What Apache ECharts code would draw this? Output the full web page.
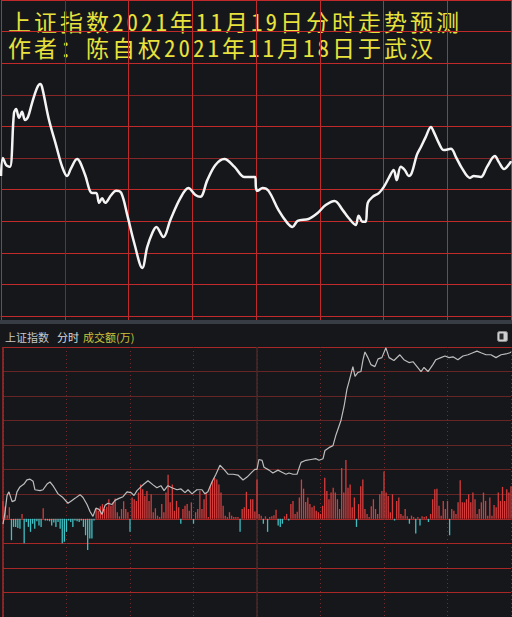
<!DOCTYPE html>
<html>
<head>
<meta charset="utf-8">
<script src="https://cdn.jsdelivr.net/npm/echarts@6/dist/echarts.min.js"></script>
<style>
html,body{margin:0;padding:0;background:#16171b;}
#chart{width:512px;height:617px;}
#chart text[style*="23px"]{letter-spacing:3px;}
</style>
</head>
<body>
<div id="chart"></div>
<script>
// ---- titles ----
const titleLine1 = '上证指数2021年11月19日分时走势预测';
const titleLine2 = '作者：陈自权2021年11月18日于武汉';
const headerName = '上证指数';
const headerMode = '分时';
const headerVol = '成交额(万)';

// ---- top panel: predicted intraday line (minute from 9:30, index value) ----
const predMinute = [0,0.9,2.4,4.2,6.1,7.1,8.5,9.9,11.3,12.7,14.6,17.0,18.4,19.3,22.6,25.9,28.8,31.1,33.0,35.8,37.2,39.6,42.9,44.8,46.2,47.6,49.0,51.9,54.2,56.6,59.4,62.7,66.5,68.8,71.2,73.1,76.4,79.7,84.4,88.2,91.5,93.8,97.1,100.9,105.1,109.9,114.6,119.6,120,120.7,123.1,125.9,130.6,134.8,137.2,139.6,144.7,149.0,152.8,157.0,160.8,163.6,166.9,168.3,170.2,171.6,172.6,174.9,177.8,180.1,182.5,184.8,186.2,188.1,190.0,191.9,193.3,195.7,197.6,199.9,202.3,203.7,206.0,208.4,211.7,214.1,216.9,220.7,222.5,225.8,228.7,232.4,234.3,236.7,239.5,240];
const predValue = [3514.3,3520.0,3517.8,3517.2,3534.2,3535.5,3532.7,3534.6,3532.0,3533.0,3537.4,3542.2,3543.4,3542.5,3532.0,3524.1,3517.2,3514.3,3516.8,3519.7,3518.7,3514.6,3508.9,3508.9,3505.8,3507.3,3505.8,3508.3,3509.6,3508.9,3502.0,3493.1,3485.2,3491.8,3496.3,3498.2,3495.0,3500.4,3507.3,3510.5,3508.3,3507.7,3513.0,3517.8,3519.7,3517.2,3514.0,3514.0,3510.5,3509.6,3510.5,3509.6,3503.5,3499.4,3498.2,3500.1,3500.7,3502.6,3505.1,3506.4,3503.5,3501.0,3498.8,3501.7,3499.8,3499.8,3505.8,3507.7,3508.9,3510.8,3513.7,3516.2,3513.0,3517.2,3516.2,3514.3,3515.3,3521.0,3523.5,3526.7,3529.8,3528.2,3524.8,3522.5,3522.9,3520.3,3516.8,3513.7,3514.3,3514.0,3517.2,3520.6,3518.7,3516.5,3518.4,3519.0];

// ---- bottom panel: actual price line ----
const priceMinute = [0,0.9,1.9,2.8,4.3,5.7,6.6,8.0,9.9,11.3,12.8,14.2,15.1,17.5,18.9,20.8,22.2,23.6,24.6,26.0,28.3,30.7,32.6,34.0,36.4,37.8,39.7,41.1,42.5,43.9,45.4,46.8,48.2,49.6,51.5,52.9,54.8,56.7,58.6,60.5,61.9,63.3,65.7,66.6,68.5,70.9,72.7,74.6,76.1,77.9,79.8,82.2,84.1,86.0,87.4,89.3,91.6,94.0,95.4,96.8,98.7,100.6,102.5,104.4,106.3,108.7,111.0,113.4,115.3,117.6,119.0,120,120.9,122.4,123.3,125.7,127.5,129.9,131.8,133.7,135.1,137.0,138.9,140.8,143.1,145.5,147.9,149.3,151.2,152.1,154.0,155.9,157.3,159.7,161.1,162.5,163.5,165.3,166.3,167.7,169.1,170.1,171.0,172.4,173.8,175.7,177.2,179.0,180.9,182.4,184.7,187.5,189.4,191.8,193.7,195.6,197.5,198.9,200.8,203.1,204.5,206.9,208.8,210.7,212.6,214.9,217.3,219.7,222.0,223.9,225.8,228.2,230.5,232.9,235.3,237.6,239.5,240];
const priceValue = [3516.7,3519.4,3523.7,3524.6,3522.2,3522.5,3524.6,3525.8,3526.5,3527.5,3527.7,3527.2,3525.1,3524.9,3525.1,3526.5,3527.0,3526.1,3525.3,3524.1,3523.2,3521.8,3522.5,3523.0,3523.9,3523.2,3521.5,3519.8,3518.6,3520.6,3520.3,3519.1,3521.3,3521.8,3521.5,3522.5,3523.0,3523.4,3524.6,3524.4,3523.7,3524.9,3526.1,3526.5,3527.3,3526.3,3525.6,3526.1,3524.9,3526.1,3525.6,3525.1,3525.3,3524.4,3525.1,3524.1,3525.1,3525.1,3524.1,3524.6,3527.0,3528.9,3531.1,3530.1,3528.9,3528.9,3528.7,3527.5,3528.2,3529.4,3530.1,3530.1,3532.5,3532.3,3530.6,3529.9,3529.2,3529.9,3529.4,3528.9,3529.2,3528.9,3528.9,3531.8,3532.3,3532.5,3532.7,3532.3,3532.7,3534.7,3535.4,3535.9,3538.5,3542.1,3545.4,3549.7,3551.6,3555.2,3552.8,3553.8,3554.0,3556.9,3558.8,3557.4,3555.7,3555.2,3557.1,3557.4,3559.8,3557.4,3556.7,3558.1,3556.9,3556.2,3556.4,3555.2,3554.0,3555.0,3554.0,3555.7,3556.9,3557.4,3557.8,3557.4,3557.6,3556.9,3557.8,3558.1,3558.6,3559.0,3558.6,3558.1,3558.1,3557.4,3558.1,3558.3,3558.6,3558.8];

// ---- bottom panel: per-minute turnover bars (minute 0..240) ----
const volume = [
 7300, 5000, 1500, 4700,-8700,-3300,-3300,-3700,-4000, 2000,
-10000,-1300,-3300,-5300,-2000,-4000,-1000,-2700,-3300, 4300,
 -700, -700,-1000,-2700,-1500,-3300,-1300,-4000,-10000,-9300,
-5300, -700,-1300,-3300, -700,-1000,-1300, -700,-3300,-6700,
-12700,-8000,-8000, -700, 4000, 3300, 5100, 6000, 4000, 4900,
 8000, 5300, 6700, 8300, 2700, 1000, 4000, 7200, 4000, 2700,
-5300, 8700, 8000, 7300,10700,14000,12000, 9300,11300, 7300,
10000, 2700, 4300, 1300,  700, 6000, 2700,10700,18000, 6700,
14000, 3300, 7300, 4700,-2000, 4000, 5300, 6000, 3300, 6700,
-2000, 2700, 4000,11300, 4000, 8000,10700,  700,13300,15300,
16700,16000,14000,10700, 5300, 1300,  700, 2700, 1300,  700,
  700,  700,-5300, 4000, 4700,11000, 4000, 8000, 8000, 3000,
16000, 2000, 1300,-2000, 1000,-5300,  700, 1000, 1500, 3700,
-2700,-3300,-2000, 1000, 2000, -700, 6000, 7300, 2000, 2900,
 8700,16000,12300, 6900, 8700, 6000, 4700, 5300, 3300, 2700,
 2000, 5300,16700,11300, 8000,10700,12700,10700, 8000, 4000,
20700,10700,24000,12700,14000, 4700, 8700,-3300, 6000,13300,
16000, 4000, 2000,  700, 5100, 8000, 4000, 2000,10000,11300,
19300,10700, 9300, 2700,10000, -700, 7300, 8700, 2000, 1300,
 4000, 1000,-2000, 1300,  700,-6000,  700,-2700, 1000,  700,
 1000,-1300, 2000, 8000,12000,12300, 5300, 1300, 7300, 4000,
 7300,-6700, 4000, 3300, 2000, 6700,15700, 6700, 6700, 8000,
10000, 6700,10700, 8000, 2000, 4000, 6700,10700, 7300, 1300,
 8700, 1300, 5600, 4700,10700, 7300,13000, 7300,12000,10700,
13300];

const BR = '#c02a2a', DK = '#862626';
const BB = '#a82828', BD = '#662424';

const chart = echarts.init(document.getElementById('chart'), null, {renderer: 'svg'});
const hidden = {show: false};
const titleFont = '"Noto Sans Mono CJK SC","Noto Sans CJK SC"';
chart.setOption({
  backgroundColor: '#16171b',
  animation: false,
  grid: [
    {left: 1, top: 0, width: 510, height: 316},
    {left: 3, top: 347, width: 508, height: 276}
  ],
  xAxis: [
    {type: 'value', gridIndex: 0, min: 0, max: 240, interval: 30,
     axisLabel: hidden, axisLine: {show: true, lineStyle: {color: BR}},
     axisTick: {show: true, length: 4, lineStyle: {color: BR}},
     splitLine: {show: true, lineStyle: {color: [BR, DK, BR, BR, BR, BR, BR, BR, BR], width: 1}}},
    {type: 'value', gridIndex: 1, min: 0, max: 240, interval: 30,
     axisLabel: hidden, axisLine: hidden, axisTick: hidden,
     splitLine: {show: true, lineStyle: {color: '#7a2a2a', type: [1, 3], width: 1}}},
    {type: 'value', gridIndex: 1, min: 0, max: 240, interval: 120,
     axisLabel: hidden, axisLine: hidden, axisTick: hidden,
     splitLine: {show: true, lineStyle: {color: [BB, '#4a2a2a', 'rgba(0,0,0,0)'], width: 1.5}}}
  ],
  yAxis: [
    {type: 'value', gridIndex: 0, min: 3470, max: 3570, interval: 10,
     axisLabel: hidden, axisLine: hidden, axisTick: hidden,
     splitLine: {show: true, lineStyle: {color: [BR, BR, BR, BR, BR, DK, BR, DK, BR, BR, BR], width: 1.2}}},
    {type: 'value', gridIndex: 1, min: -40000, max: 70000, interval: 10000,
     axisLabel: hidden, axisLine: hidden, axisTick: hidden,
     splitLine: {show: true, lineStyle: {color: [BB, BB, BB, BB, BB, BD, BD, BD, BD, BD, BD, BB], width: 1.2}}},
    {type: 'value', gridIndex: 1, min: 3494, max: 3560, interval: 6,
     axisLabel: hidden, axisLine: hidden, axisTick: hidden, splitLine: hidden}
  ],
  series: [
    {type: 'line', xAxisIndex: 0, yAxisIndex: 0, smooth: 0.35, symbol: 'none',
     lineStyle: {color: '#f4f4f4', width: 2.5},
     data: predMinute.map((m, i) => [m, predValue[i]])},
    {type: 'bar', xAxisIndex: 1, yAxisIndex: 1, barWidth: 1.3,
     data: volume.map((v, i) => ({value: [i, v], itemStyle: {color: v >= 0 ? '#d63c3c' : '#3fbfc2'}}))},
    {type: 'line', xAxisIndex: 1, yAxisIndex: 2, symbol: 'none',
     lineStyle: {color: '#bdbdbd', width: 1.2},
     data: priceMinute.map((m, i) => [m, priceValue[i]])}
  ],
  graphic: [
    {type: 'text', x: 8, y: 8, style: {text: titleLine1 + '\n' + titleLine2, fill: '#e8e23c', fontSize: 23,
      lineHeight: 26, fontFamily: titleFont, verticalAlign: 'top', align: 'left'}},
    {type: 'rect', shape: {x: 0, y: 320, width: 512, height: 4}, style: {fill: '#383c44'}},
    {type: 'text', x: 5, y: 337, style: {text: headerName, fill: '#c8c8c8', fontSize: 11,
      fontFamily: '"Noto Sans CJK SC"', verticalAlign: 'middle'}},
    {type: 'text', x: 57, y: 337, style: {text: headerMode, fill: '#dadada', fontSize: 11,
      fontFamily: '"Noto Sans CJK SC"', verticalAlign: 'middle'}},
    {type: 'text', x: 83, y: 337, style: {text: headerVol, fill: '#c9c23a', fontSize: 11,
      fontFamily: '"Noto Sans CJK SC"', verticalAlign: 'middle'}},
    {type: 'rect', shape: {x: 497.5, y: 331.5, width: 10, height: 10, r: 2},
      style: {fill: '#cfcfcf', stroke: '#8a8a8a', lineWidth: 1}},
    {type: 'rect', shape: {x: 499.5, y: 333.5, width: 4, height: 6},
      style: {fill: '#2a2b2f'}}
  ]
});
</script>
</body>
</html>
